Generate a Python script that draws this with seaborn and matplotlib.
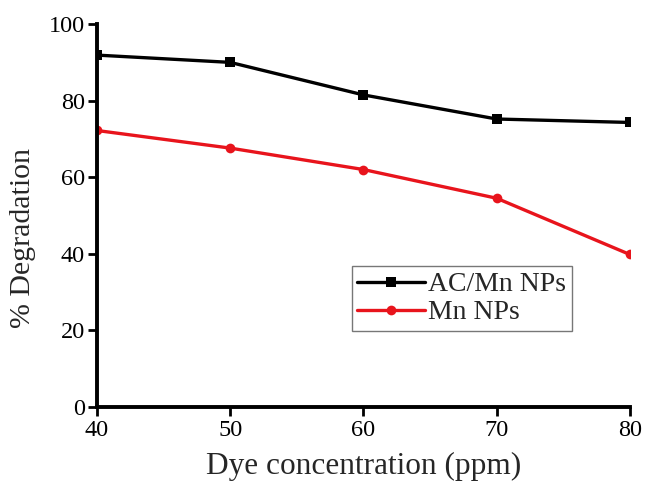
import matplotlib
matplotlib.use("Agg")
import matplotlib.pyplot as plt
import seaborn as sns
import pandas as pd

# Dye concentration (ppm) and percentage degradation for each catalyst
concentration = [40, 50, 60, 70, 80]
ac_mn_nps = [91.9, 90.0, 81.5, 75.2, 74.3]
mn_nps = [72.2, 67.6, 62.0, 54.5, 39.8]
series_names = ["AC/Mn NPs", "Mn NPs"]
x_ticks = [40, 50, 60, 70, 80]
y_ticks = [0, 20, 40, 60, 80, 100]

df = pd.DataFrame({
    "Dye concentration (ppm)": concentration * 2,
    "% Degradation": ac_mn_nps + mn_nps,
    "Sample": [series_names[0]] * len(concentration) + [series_names[1]] * len(concentration),
})

sns.set_style("ticks")
plt.rcParams["font.family"] = ["Liberation Serif", "DejaVu Serif"]

fig = plt.figure(figsize=(6.46, 4.82), dpi=100)
ax = fig.add_axes([0.150, 0.156, 0.825, 0.794])

sns.lineplot(
    data=df, x="Dye concentration (ppm)", y="% Degradation", hue="Sample",
    style="Sample", markers={"AC/Mn NPs": "s", "Mn NPs": "o"}, dashes=False,
    palette={"AC/Mn NPs": "black", "Mn NPs": "#e8141c"},
    linewidth=2.4, markersize=7, markeredgewidth=0, ax=ax,
)

ax.set_xlim(40, 80)
ax.set_ylim(0, 100)
ax.set_xticks(x_ticks)
ax.set_yticks(y_ticks)
ax.tick_params(axis="both", direction="out", length=6.5, width=2.0,
               labelsize=17.5, colors="black")
ax.tick_params(axis="x", pad=3)
ax.tick_params(axis="y", pad=2)
sns.despine(ax=ax)
for side in ("left", "bottom"):
    ax.spines[side].set_linewidth(2.8)
    ax.spines[side].set_color("black")
for lbl in ax.get_xticklabels() + ax.get_yticklabels():
    lbl.set_clip_on(False)

ax.set_xlabel("Dye concentration (ppm)", fontsize=22.5, labelpad=8)
ax.set_ylabel("% Degradation", fontsize=21.5)
ax.yaxis.set_label_coords(-0.115, 0.44)

leg = ax.legend(
    title=None, loc="lower left", bbox_to_anchor=(0.478, 0.198),
    fontsize=20, frameon=True, fancybox=False, edgecolor="#555555",
    handlelength=2.45, borderpad=0.2, labelspacing=0.1, handletextpad=0.1,
    borderaxespad=0,
)
leg.get_frame().set_linewidth(1.0)

fig.savefig("out.png", dpi=100, facecolor="white")
